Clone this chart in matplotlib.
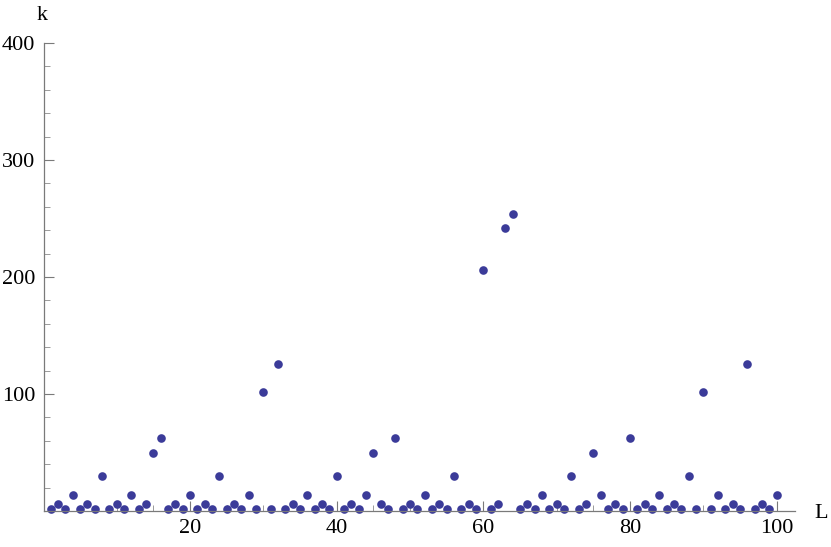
import matplotlib

matplotlib.use("Agg")
import matplotlib.pyplot as plt
from matplotlib.ticker import MultipleLocator

# L = 1..100 and the value k
L = list(range(1, 101))
k = [
    2, 6, 2, 14, 2, 6, 2, 30, 2, 6,
    2, 14, 2, 6, 50, 62, 2, 6, 2, 14,
    2, 6, 2, 30, 2, 6, 2, 14, 2, 102,
    2, 126, 2, 6, 2, 14, 2, 6, 2, 30,
    2, 6, 2, 14, 50, 6, 2, 62, 2, 6,
    2, 14, 2, 6, 2, 30, 2, 6, 2, 206,
    2, 6, 242, 254, 2, 6, 2, 14, 2, 6,
    2, 30, 2, 6, 50, 14, 2, 6, 2, 62,
    2, 6, 2, 14, 2, 6, 2, 30, 2, 102,
    2, 14, 2, 6, 2, 126, 2, 6, 2, 14,
]
x_major = [20, 40, 60, 80, 100]
y_major = [100, 200, 300, 400]

W, H = 831, 547
fig = plt.figure(figsize=(W / 100, H / 100), dpi=100)
# axes box in pixels: origin at (43.5, 511), x to 795, y to 43
x0, y0, x1, y1 = 43.5, 511, 795, 43
ax = fig.add_axes([x0 / W, (H - y0) / H, (x1 - x0) / W, (y0 - y1) / H])
ax.set_xlim(0, 102.5)
ax.set_ylim(0, 400)

ax.plot(L, k, "o", color="#3b3b99", markersize=6.2, markeredgewidth=0, clip_on=False)

for s in ["top", "right"]:
    ax.spines[s].set_visible(False)
for s in ["left", "bottom"]:
    ax.spines[s].set_color("#7a7a7a")
    ax.spines[s].set_linewidth(0.9)

ax.set_xticks(x_major)
ax.set_yticks(y_major)
ax.xaxis.set_minor_locator(MultipleLocator(5))
ax.yaxis.set_minor_locator(MultipleLocator(20))
ax.tick_params(which="major", direction="in", length=7.5, width=0.8, color="#7a7a7a",
               labelsize=16, pad=6)
ax.tick_params(which="minor", direction="in", length=4, width=0.7, color="#9a9a9a")
for lab in ax.get_xticklabels() + ax.get_yticklabels():
    lab.set_family("Liberation Serif")
ax.tick_params(axis="y", pad=6)

fig.text(42 / W, 1 - 15 / H, "k", family="Liberation Serif", fontsize=16,
         ha="center", va="center")
fig.text(821 / W, 1 - 514 / H, "L", family="Liberation Serif", fontsize=16,
         ha="center", va="center")

fig.savefig("out.png", dpi=100)
